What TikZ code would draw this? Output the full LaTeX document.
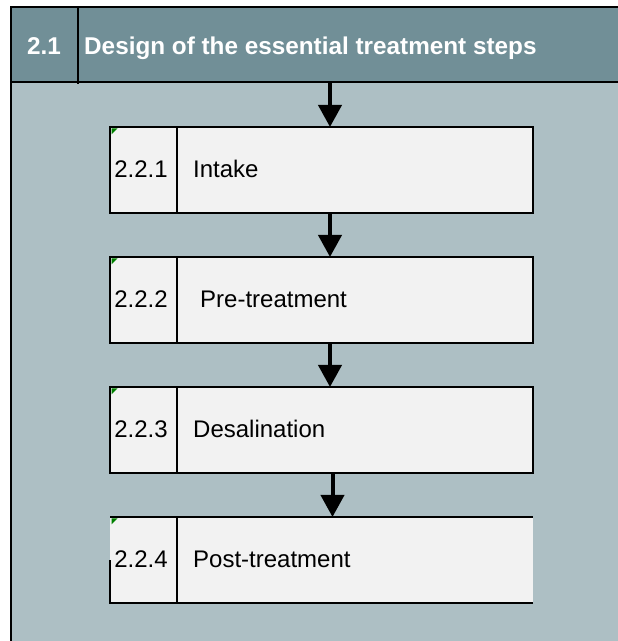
\documentclass[tikz,border=0pt]{standalone}
\usepackage{fontspec}
\setmainfont{Liberation Sans}
\usetikzlibrary{positioning,arrows.meta}
\definecolor{headgray}{HTML}{718F97}
\definecolor{bodygray}{HTML}{ADBFC4}
\definecolor{boxfill}{HTML}{F2F2F2}
\definecolor{markgreen}{HTML}{008000}
\tikzstyle{stepbox}=[draw,line width=2.5pt,fill=boxfill,minimum width=423pt,minimum height=86pt,inner sep=0pt,outer sep=0pt,anchor=north west]
\tikzstyle{stepnum}=[inner sep=0pt,anchor=base,font=\fontsize{24}{28}\selectfont]
\tikzstyle{steptext}=[inner sep=0pt,anchor=base west,font=\fontsize{24}{28}\selectfont]
\tikzstyle{headtext}=[inner sep=0pt,text=white,font=\fontsize{24.3}{28}\selectfont\bfseries]
\tikzstyle{flow}=[line width=4pt,-{Triangle[width=23pt,length=22pt]}]
\tikzstyle{frame}=[line width=2pt]

\begin{document}
\begin{tikzpicture}[x=1pt,y=1pt]  % section 2.1, steps 2.2.1 - 2.2.4
\useasboundingbox (0,0) rectangle (618,641);

% panel background
\fill[bodygray] (11,0) rectangle (618,559);
\node[fill=headgray,minimum width=607pt,minimum height=74.5pt,inner sep=0pt,outer sep=0pt,anchor=north west] (head) at (11,633.5) {};

\draw[frame] (618,633.5) -- (11,633.5) -- (11,0);
\draw[frame] (head.south west) -- (head.south east);
\draw[frame] (77.5,633.5) -- (77.5,557);

\node[headtext,anchor=base] (secnum) at (44,586) {2.1};
\node[headtext,anchor=base west] (sectitle) at (84,586) {Design of the essential treatment steps};

% the four steps
\node[stepbox] (step1) at (110,514) {};
\node[stepbox,below=44pt of step1] (step2) {};
\node[stepbox,below=44pt of step2] (step3) {};
\node[stepbox,below=44pt of step3,draw=none] (step4) {};

% last box only shows part of its frame
\draw[line width=2.5pt] (step4.north west) -- (step4.north east);
\draw[line width=2.5pt] (step4.south east) -- (step4.south west) -- ([yshift=43pt]step4.south west);

\foreach \s in {step1,step2,step3,step4}{
  \draw[line width=2.5pt] ([xshift=67pt]\s.north west) -- ([xshift=67pt]\s.south west);
  \fill[markgreen] ([xshift=1.5pt,yshift=-1.5pt]\s.north west) -- ++(6,0) -- ++(-6,-6) -- cycle;
}

\node[stepnum] (num1) at ([xshift=31pt,yshift=-8pt]step1.west) {2.2.1};
\node[steptext] (txt1) at ([xshift=83pt,yshift=-8pt]step1.west) {Intake};
\node[stepnum] (num2) at ([xshift=31pt,yshift=-8pt]step2.west) {2.2.2};
\node[steptext] (txt2) at ([xshift=90pt,yshift=-8pt]step2.west) {Pre-treatment};
\node[stepnum] (num3) at ([xshift=31pt,yshift=-8pt]step3.west) {2.2.3};
\node[steptext] (txt3) at ([xshift=83pt,yshift=-8pt]step3.west) {Desalination};
\node[stepnum] (num4) at ([xshift=31pt,yshift=-8pt]step4.west) {2.2.4};
\node[steptext] (txt4) at ([xshift=83pt,yshift=-8pt]step4.west) {Post-treatment};

% arrows between the steps
\coordinate (ax) at (330,0);
\coordinate (bx) at (332.5,0);
\draw[flow] (ax |- head.south) -- (ax |- step1.north);
\draw[flow] (ax |- step1.south) -- (ax |- step2.north);
\draw[flow] (ax |- step2.south) -- (ax |- step3.north);
\draw[flow] (bx |- step3.south) -- (bx |- step4.north);
\end{tikzpicture}
\end{document}
